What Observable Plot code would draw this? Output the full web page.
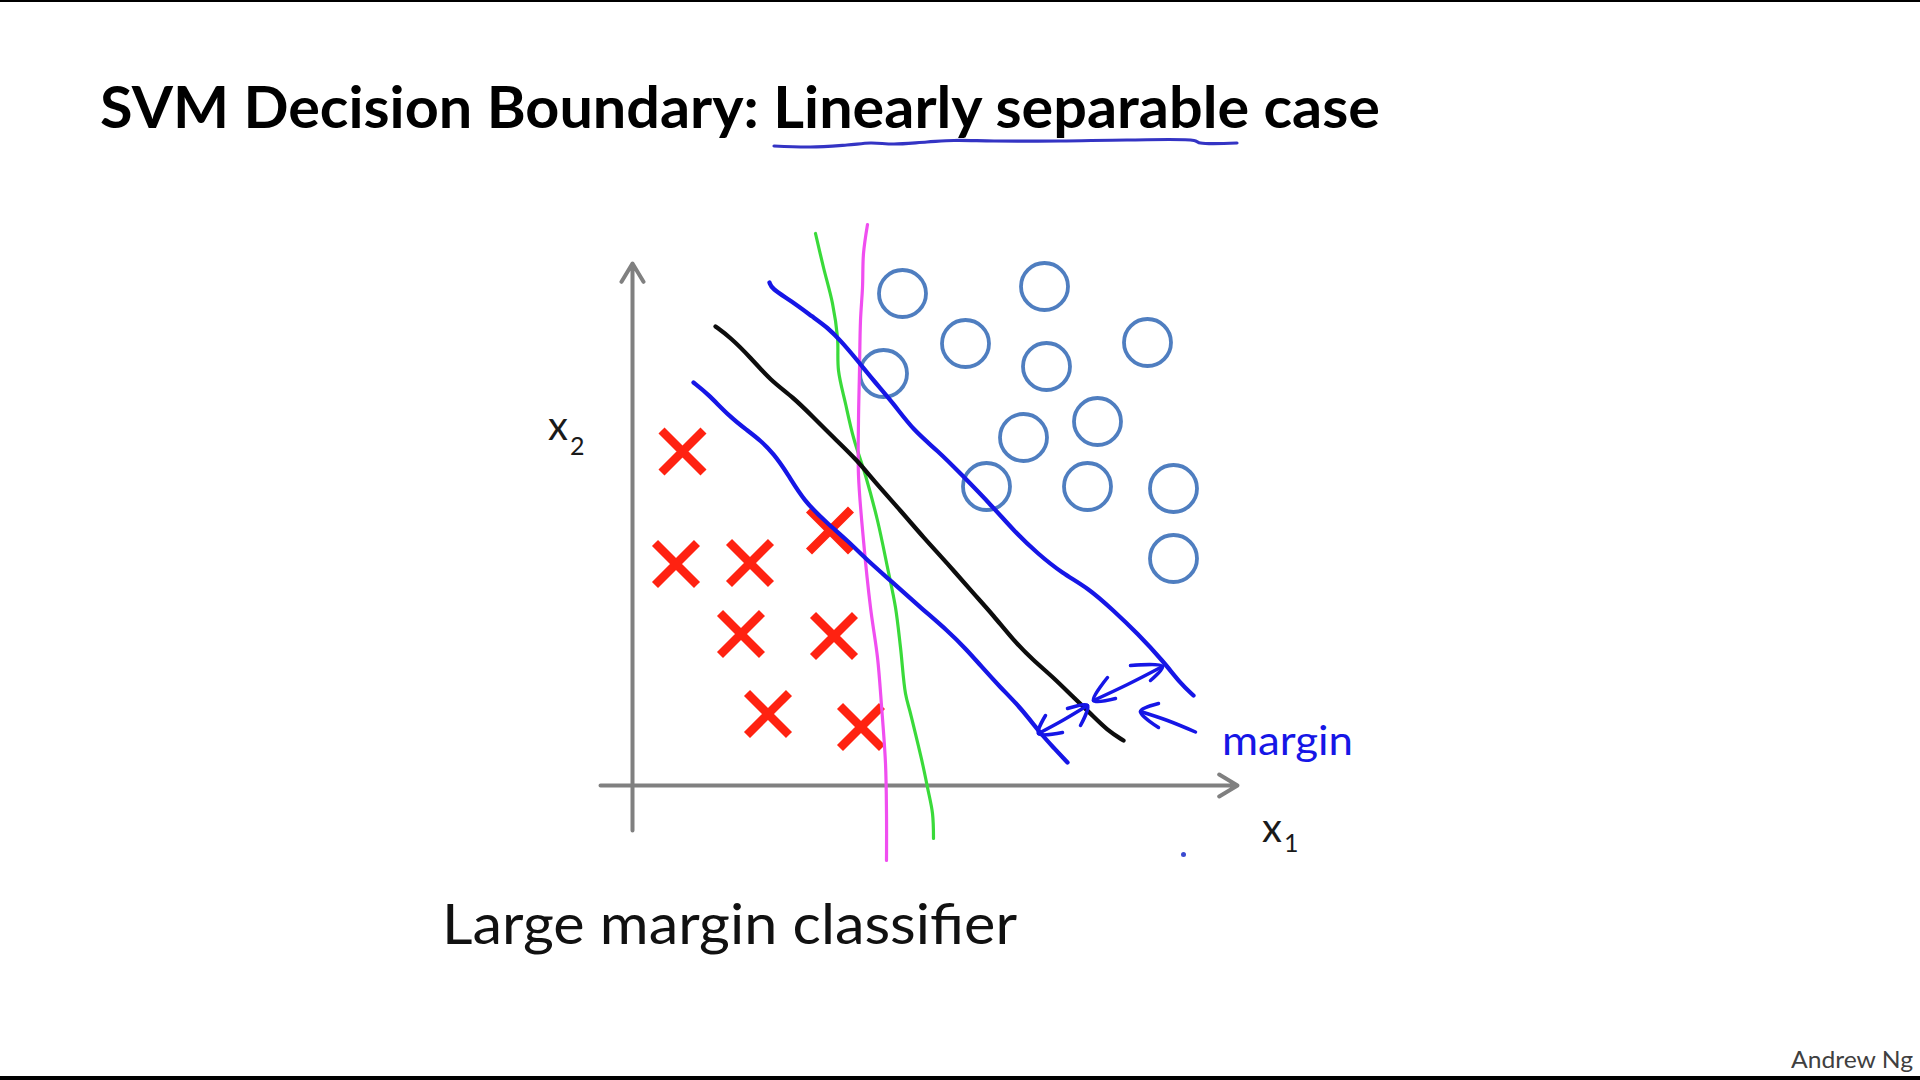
<!DOCTYPE html>
<html>
<head>
<meta charset="utf-8">
<script src="https://cdn.jsdelivr.net/npm/d3@7"></script>
<script src="https://cdn.jsdelivr.net/npm/@observablehq/plot@0.6"></script>
<style>
  html, body { margin: 0; padding: 0; background: #fff; }
  #page { position: relative; width: 1920px; height: 1080px; overflow: hidden; background: #fff; }
  #chart { position: absolute; left: 0; top: 0; }
  .t { position: absolute; white-space: nowrap; font-family: Lato, "Open Sans", sans-serif; line-height: 1; transform-origin: 0 0; }
  .bar { position: absolute; left: 0; width: 1920px; background: #000; }
</style>
</head>
<body>
<div id="page">
  <div class="bar" style="top:0;height:2px"></div>
  <div id="chart"></div>
  <div class="bar" style="bottom:0;height:4px"></div>
</div>
<script>
// ---------- data (x1, x2 units; origin at the axes' crossing) ----------
const positiveX1 = [5.40, 8.24, 6.66, 10.30, 5.02, 8.28, 9.30, 7.82, 7.08, 9.10, 10.82, 10.82];
const positiveX2 = [9.84, 9.98, 8.84, 8.86, 8.24, 8.38, 7.28, 6.96, 5.98, 5.98, 5.94, 4.54];

const negativeX1 = [1.00, 0.87, 2.35, 3.95, 2.17, 4.03, 2.71, 4.57];
const negativeX2 = [6.68, 4.43, 4.45, 5.10, 3.03, 2.99, 1.43, 1.17];

// hand-drawn boundaries
const svmBoundary = [[1.66,9.18],[1.96,8.96],[2.36,8.56],[2.76,8.10],[3.22,7.76],[3.62,7.36],[4.02,6.96],
  [4.50,6.50],[4.82,6.10],[5.36,5.50],[5.82,4.96],[6.30,4.44],[6.82,3.84],[7.22,3.40],[7.62,2.90],
  [8.02,2.50],[8.42,2.16],[8.82,1.76],[9.16,1.44],[9.50,1.10],[9.82,0.90]];

const upperMargin = [[2.74,10.06],[2.78,9.94],[3.16,9.70],[3.62,9.36],[3.90,9.16],[4.16,8.90],[4.50,8.50],
  [4.82,8.10],[5.22,7.64],[5.62,7.10],[6.10,6.70],[6.56,6.24],[7.22,5.56],[7.62,5.10],[8.10,4.64],
  [8.60,4.24],[9.10,3.96],[9.62,3.50],[10.10,3.04],[10.62,2.48],[10.96,2.04],[11.22,1.80]];

const lowerMargin = [[1.22,8.06],[1.50,7.84],[1.96,7.36],[2.30,7.10],[2.56,6.90],[2.82,6.64],[3.10,6.24],
  [3.42,5.70],[3.90,5.24],[4.30,4.90],[4.70,4.50],[5.16,4.10],[5.76,3.56],[6.30,3.10],[6.70,2.70],
  [6.96,2.40],[7.36,1.96],[7.76,1.56],[8.16,1.04],[8.42,0.76],[8.70,0.46]];

const greenBoundary = [[3.66,11.04],[3.82,10.36],[4.00,9.64],[4.10,8.96],[4.12,8.30],[4.26,7.64],[4.42,6.96],
  [4.66,6.20],[4.90,5.30],[5.10,4.36],[5.26,3.56],[5.36,2.76],[5.46,1.84],[5.56,1.44],[5.80,0.44],
  [5.90,-0.04],[6.00,-0.56],[6.02,-1.06]];

const magentaBoundary = [[4.70,11.22],[4.62,10.64],[4.60,9.96],[4.56,9.30],[4.54,8.30],[4.52,7.30],[4.52,6.20],
  [4.62,4.90],[4.76,3.56],[4.90,2.56],[4.98,1.60],[5.06,0.44],[5.08,-0.56],[5.08,-1.50]];

// margin arrows (hand-drawn strokes)
const marginStrokes = [
  [[8.26,1.40],[8.12,1.04],[8.60,1.06]],
  [[8.12,1.04],[8.60,1.30],[9.10,1.60]],
  [[8.70,1.54],[9.10,1.60],[8.96,1.20]],
  [[9.50,2.16],[9.22,1.70],[9.66,1.74]],
  [[9.22,1.70],[9.90,2.02],[10.60,2.38]],
  [[9.96,2.40],[10.60,2.38],[10.36,2.10]],
  [[10.52,1.64],[10.16,1.48],[10.52,1.16]],
  [[10.16,1.48],[10.70,1.30],[11.26,1.07]]
];

// title underline (hand-drawn)
const titleUnderline = [[2.83,12.79],[3.56,12.77],[4.29,12.81],[4.76,12.85],[5.23,12.83],[5.89,12.87],
  [6.43,12.90],[7.23,12.89],[8.56,12.89],[9.89,12.91],[11.23,12.90],[11.36,12.85],[12.09,12.85]];

const axesArrows = [
  {x1: 0, y1: -0.9, x2: 0, y2: 10.44},
  {x1: -0.64, y1: 0, x2: 12.1, y2: 0}
];
const strayDot = [[11.02, -1.38]];

// text
const titleText = "SVM Decision Boundary: Linearly separable case";
const captionText = "Large margin classifier";
const creditText = "Andrew Ng";
const marginText = "margin";

// ---------- tables ----------
const positives = positiveX1.map((x, i) => ({x, y: positiveX2[i]}));
const negatives = negativeX1.map((x, i) => ({x, y: negativeX2[i]}));
const strokes = marginStrokes.flatMap((s, k) => s.map(([x, y]) => ({x, y, k})));

const crossSymbol = {
  draw(context, size) {
    const s = Math.sqrt(size / Math.PI);
    context.moveTo(-s, -s); context.lineTo(s, s);
    context.moveTo(s, -s); context.lineTo(-s, s);
  }
};

const px = {x: d => d[0], y: d => d[1]};
const BLUE = "#1616e6";

const chart = Plot.plot({
  width: 1920,
  height: 1080,
  margin: 0,
  x: {type: "linear", domain: [0, 12], range: [632, 1232], axis: null},
  y: {type: "linear", domain: [0, 10], range: [785, 285], axis: null},
  style: {background: "transparent", overflow: "visible"},
  marks: [
    Plot.line(titleUnderline, {...px, stroke: "#3434c4", strokeWidth: 3.2, curve: "catmull-rom"}),
    Plot.arrow(axesArrows, {x1: "x1", y1: "y1", x2: "x2", y2: "y2", stroke: "#808080", strokeWidth: 4, headLength: 8, headAngle: 62}),
    Plot.dot(positives, {x: "x", y: "y", r: 23.5, stroke: "#4f7ec0", strokeWidth: 3.8, fill: "none"}),
    Plot.dot(negatives, {x: "x", y: "y", r: 21, symbol: crossSymbol, stroke: "#ff2211", strokeWidth: 8.5, fill: "none", strokeLinecap: "butt"}),
    Plot.line(greenBoundary, {...px, stroke: "#3ada3a", strokeWidth: 3.2, curve: "catmull-rom"}),
    Plot.line(magentaBoundary, {...px, stroke: "#f04ef0", strokeWidth: 3.2, curve: "catmull-rom"}),
    Plot.line(svmBoundary, {...px, stroke: "#0d0d0d", strokeWidth: 4.3, curve: "basis"}),
    Plot.line(upperMargin, {...px, stroke: BLUE, strokeWidth: 4.3, curve: "basis"}),
    Plot.line(lowerMargin, {...px, stroke: BLUE, strokeWidth: 4.3, curve: "basis"}),
    Plot.line(strokes, {x: "x", y: "y", z: "k", stroke: BLUE, strokeWidth: 3.5, strokeLinecap: "round", strokeLinejoin: "round", curve: "catmull-rom"}),
    Plot.dot(strayDot, {...px, r: 2.5, fill: "#3a4ad0", stroke: "none"})
  ]
});
document.getElementById("chart").append(chart);

// ---------- text placement ----------
const page = document.getElementById("page");
function place(txt, {left, baseline, width, size, weight = 400, color = "#000", family}) {
  const el = document.createElement("div");
  el.className = "t";
  el.style.fontSize = size + "px";
  el.style.fontWeight = weight;
  el.style.color = color;
  if (family) el.style.fontFamily = family;
  el.style.left = left + "px";
  el.style.top = "0px";
  const span = document.createElement("span");
  span.textContent = txt;
  const probe = document.createElement("span");
  probe.style.cssText = "display:inline-block;width:0;height:0;vertical-align:baseline";
  el.append(span, probe);
  page.append(el);
  const b = probe.getBoundingClientRect().top - el.getBoundingClientRect().top;
  el.style.top = (baseline - b) + "px";
  if (width) {
    const w = span.getBoundingClientRect().width;
    el.style.transform = `scaleX(${width / w})`;
  }
  return el;
}

function drawTexts() {
  place(titleText, {left: 100, baseline: 128, width: 1280, size: 57, weight: 700, color: "#000"});
  place(captionText, {left: 442, baseline: 944, width: 575, size: 57, weight: 400, color: "#111"});
  place(creditText, {left: 1791, baseline: 1068, width: 122, size: 23, weight: 400, color: "#404040"});
  place("x", {left: 548, baseline: 440, size: 40, color: "#1a1a1a"});
  place("2", {left: 570, baseline: 455, size: 25, color: "#1a1a1a"});
  place("x", {left: 1262, baseline: 842, size: 40, color: "#1a1a1a"});
  place("1", {left: 1284, baseline: 852, size: 25, color: "#1a1a1a"});
  place(marginText, {left: 1222, baseline: 755, width: 131, size: 40, weight: 400, color: BLUE});
}
if (document.fonts && document.fonts.ready) document.fonts.ready.then(drawTexts); else drawTexts();
</script>
</body>
</html>
